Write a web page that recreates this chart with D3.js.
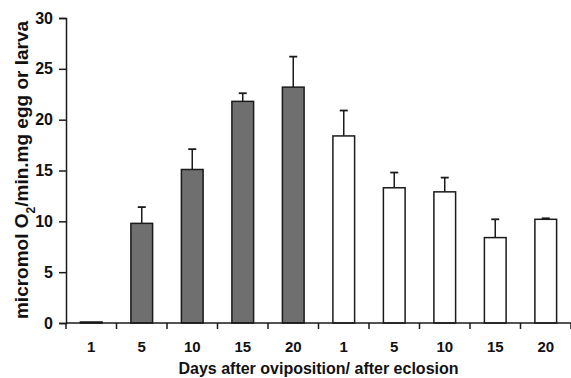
<!DOCTYPE html>
<html>
<head>
<meta charset="utf-8">
<script src="https://cdn.jsdelivr.net/npm/d3@7"></script>
<style>
  body { margin: 0; background: #fff; }
  text { font-family: Arial, "Liberation Sans", sans-serif; font-weight: bold; fill: #111; }
</style>
</head>
<body>
<div id="chart"></div>
<script>
// Data
const categories = ['1', '5', '10', '15', '20', '1', '5', '10', '15', '20'];
const stage = ['egg', 'egg', 'egg', 'egg', 'egg', 'larva', 'larva', 'larva', 'larva', 'larva'];
const means = [0.1, 9.8, 15.1, 21.8, 23.2, 18.4, 13.3, 12.9, 8.4, 10.2];
const errors = [0, 1.6, 2.0, 0.8, 3.0, 2.5, 1.5, 1.4, 1.8, 0.1];
const yTicks = [0, 5, 10, 15, 20, 25, 30];

const W = 571, H = 378;
const margin = { top: 18, right: 0, bottom: 55, left: 66 };
const width = W - margin.left - margin.right;
const height = H - margin.top - margin.bottom;

const data = categories.map((c, i) => ({ i, label: c, stage: stage[i], v: means[i], e: errors[i] }));

const svg = d3.select('#chart').append('svg')
  .attr('width', W).attr('height', H);
const g = svg.append('g').attr('transform', `translate(${margin.left},${margin.top})`);

const x = d3.scaleBand().domain(d3.range(categories.length)).range([0, width]).paddingInner(0.57).paddingOuter(0.285);
const band = d3.scaleBand().domain(d3.range(categories.length)).range([0, width]);
const y = d3.scaleLinear().domain([0, 30]).range([height, 0]);

// bars
g.selectAll('rect.bar').data(data).enter().append('rect')
  .attr('class', 'bar')
  .attr('x', d => x(d.i))
  .attr('y', d => y(d.v))
  .attr('width', x.bandwidth())
  .attr('height', d => y(0) - y(d.v))
  .attr('fill', d => d.stage === 'egg' ? '#6f6f6f' : '#fff')
  .attr('stroke', '#1a1a1a')
  .attr('stroke-width', 1.5);

// error bars (upper only)
const cx = d => x(d.i) + x.bandwidth() / 2;
g.selectAll('line.err').data(data.filter(d => d.e > 0)).enter().append('line')
  .attr('x1', cx).attr('x2', cx)
  .attr('y1', d => y(d.v)).attr('y2', d => y(d.v + d.e))
  .attr('stroke', '#1a1a1a').attr('stroke-width', 1.5);
g.selectAll('line.cap').data(data.filter(d => d.e > 0)).enter().append('line')
  .attr('x1', d => cx(d) - 4).attr('x2', d => cx(d) + 4)
  .attr('y1', d => y(d.v + d.e)).attr('y2', d => y(d.v + d.e))
  .attr('stroke', '#1a1a1a').attr('stroke-width', 1.8);

// y axis
const yAxis = g.append('g')
  .call(d3.axisLeft(y).tickValues(yTicks).tickSize(7).tickPadding(6));
yAxis.select('.domain').attr('stroke', '#1a1a1a').attr('stroke-width', 1.5);
yAxis.selectAll('.tick line').attr('stroke', '#1a1a1a').attr('stroke-width', 1.5);
yAxis.selectAll('.tick text').style('font-size', '16px').attr('font-family', null);

// x axis: line with tick marks between categories
const xAxisG = g.append('g').attr('transform', `translate(0,${height})`);
xAxisG.append('line')
  .attr('x1', 0).attr('x2', width).attr('y1', 0).attr('y2', 0)
  .attr('stroke', '#1a1a1a').attr('stroke-width', 1.5);
xAxisG.selectAll('line.tk').data(d3.range(categories.length + 1)).enter().append('line')
  .attr('x1', i => i < categories.length ? band(i) : width)
  .attr('x2', i => i < categories.length ? band(i) : width)
  .attr('y1', 0).attr('y2', 6)
  .attr('stroke', '#1a1a1a').attr('stroke-width', 1.5);
xAxisG.selectAll('text.lab').data(data).enter().append('text')
  .attr('x', d => band(d.i) + band.bandwidth() / 2)
  .attr('y', 29)
  .attr('text-anchor', 'middle')
  .style('font-size', '15px')
  .text(d => d.label);

// axis titles
svg.append('text')
  .attr('x', margin.left + (width - 20) / 2 + 10)
  .attr('y', 374)
  .attr('text-anchor', 'middle')
  .style('font-size', '16px')
  .text('Days after oviposition/ after eclosion');

const yt = svg.append('text')
  .attr('transform', `translate(28,170) rotate(-90)`)
  .attr('text-anchor', 'middle')
  .style('font-size', '19px');
yt.append('tspan').text('micromol O');
yt.append('tspan').attr('baseline-shift', 'sub').style('font-size', '12px').text('2');
yt.append('tspan').text('/min.mg egg or larva');
</script>
</body>
</html>
